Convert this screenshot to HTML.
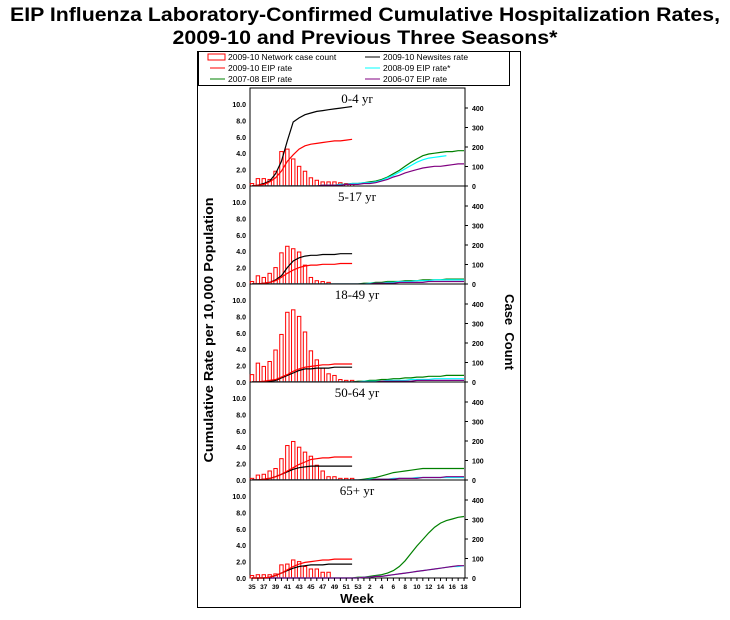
<!DOCTYPE html>
<html><head><meta charset="utf-8"><style>
body{margin:0;background:#fff;width:730px;height:620px;overflow:hidden;font-family:"Liberation Sans",sans-serif}
svg{display:block}
</style></head><body>
<svg id="chart" width="730" height="620" xmlns="http://www.w3.org/2000/svg">
<text x="365" y="21" text-anchor="middle" font-size="19" font-weight="bold" font-family="Liberation Sans, sans-serif" textLength="710" lengthAdjust="spacingAndGlyphs">EIP Influenza Laboratory-Confirmed Cumulative Hospitalization Rates,</text>
<text x="365" y="44" text-anchor="middle" font-size="19" font-weight="bold" font-family="Liberation Sans, sans-serif" textLength="385" lengthAdjust="spacingAndGlyphs">2009-10 and Previous Three Seasons*</text>
<rect x="197.5" y="51.5" width="323" height="556" fill="none" stroke="#000" stroke-width="1"/>
<g font-size="8.5">
<rect x="198.5" y="51.5" width="311" height="34" fill="#fff" stroke="#000"/>
<g><rect x="208" y="54" width="17" height="6" fill="#fff" stroke="red"/><text x="228" y="60">2009-10 Network case count</text></g>
<g><line x1="365" y1="57" x2="380" y2="57" stroke="#000"/><text x="383" y="60">2009-10 Newsites rate</text></g>
<g><line x1="210" y1="68" x2="225" y2="68" stroke="red"/><text x="228" y="71">2009-10 EIP rate</text></g>
<g><line x1="365" y1="68" x2="380" y2="68" stroke="cyan"/><text x="383" y="71">2008-09 EIP rate*</text></g>
<g><line x1="210" y1="79" x2="225" y2="79" stroke="green"/><text x="228" y="82">2007-08 EIP rate</text></g>
<g><line x1="365" y1="79" x2="380" y2="79" stroke="purple"/><text x="383" y="82">2006-07 EIP rate</text></g>
</g>
<text transform="translate(213,330) rotate(-90)" text-anchor="middle" font-size="13" font-weight="bold" textLength="265" lengthAdjust="spacingAndGlyphs">Cumulative Rate per 10,000 Population</text>
<text transform="translate(505,332) rotate(90)" text-anchor="middle" font-size="13" font-weight="bold" xml:space="preserve">Case  Count</text>
<text x="357" y="603" text-anchor="middle" font-size="13" font-weight="bold">Week</text>
<g id="plots"></g>
</svg>
<script>
const weekLabels=["35","","37","","39","","41","","43","","45","","47","","49","","51","","53","","2","","4","","6","","8","","10","","12","","14","","16","","18"];
const panelNames=["0-4 yr","5-17 yr","18-49 yr","50-64 yr","65+ yr"];
const leftTicks=[0,2,4,6,8,10];
const rightTicks=[0,100,200,300,400];
const bars04=[0.3,0.9,0.9,0.8,1.8,4.2,4.5,3.3,2.4,1.8,1.0,0.7,0.5,0.5,0.5,0.4,0.3,0.3];
const bars517=[0.3,1.0,0.8,1.3,2.0,3.8,4.6,4.3,3.9,2.3,0.8,0.4,0.3,0.2,0,0,0,0];
const bars1849=[0.9,2.3,1.9,2.5,3.9,5.8,8.5,8.8,8.0,6.1,3.8,2.7,1.7,1.0,0.8,0.3,0.2,0.2];
const bars5064=[0.2,0.6,0.7,1.1,1.4,2.6,4.2,4.7,4.0,3.4,2.9,1.8,1.1,0.4,0.4,0.2,0.2,0.2];
const bars65=[0.3,0.4,0.4,0.4,0.5,1.6,1.7,2.2,2.0,1.4,1.1,1.1,0.7,0.7,0,0,0,0];
const red04=[0,0.1,0.2,0.5,1.0,1.8,3.0,3.8,4.5,4.9,5.1,5.2,5.3,5.4,5.5,5.5,5.6,5.7];
const blk04=[0,0.1,0.3,0.6,1.5,3.0,5.5,7.8,8.3,8.7,8.9,9.1,9.2,9.3,9.4,9.5,9.6,9.7];
const red517=[0,0,0.1,0.2,0.4,0.8,1.3,1.7,2.0,2.2,2.3,2.3,2.4,2.4,2.4,2.5,2.5,2.5];
const blk517=[0,0,0.1,0.2,0.5,1.0,2.0,2.8,3.2,3.4,3.5,3.5,3.6,3.6,3.6,3.7,3.7,3.7];
const red1849=[0,0,0.1,0.2,0.3,0.6,0.9,1.3,1.6,1.8,1.9,2.0,2.1,2.1,2.2,2.2,2.2,2.2];
const blk1849=[0,0,0,0.1,0.2,0.5,0.8,1.1,1.4,1.6,1.6,1.7,1.7,1.7,1.8,1.8,1.8,1.8];
const red5064=[0,0,0.1,0.2,0.4,0.7,1.1,1.5,1.9,2.2,2.5,2.6,2.7,2.7,2.8,2.8,2.8,2.8];
const blk5064=[0,0,0.1,0.2,0.4,0.7,1.0,1.3,1.5,1.6,1.7,1.7,1.7,1.7,1.7,1.7,1.7,1.7];
const red65=[0,0,0,0.1,0.3,0.6,1.0,1.4,1.7,1.9,2.0,2.1,2.2,2.2,2.3,2.3,2.3,2.3];
const blk65=[0,0,0,0.1,0.3,0.6,0.9,1.2,1.4,1.5,1.6,1.6,1.6,1.7,1.7,1.7,1.7,1.7];
const grn04=[0,0,0,0,0,0,0,0,0,0,0,0,0.1,0.1,0.1,0.2,0.2,0.3,0.3,0.4,0.5,0.6,0.8,1.1,1.5,1.9,2.4,2.9,3.3,3.7,3.9,4.0,4.1,4.2,4.2,4.3,4.3];
const cyn04=[0,0,0,0,0,0,0,0,0,0,0,0,0.1,0.1,0.1,0.2,0.2,0.3,0.3,0.4,0.4,0.5,0.7,1.0,1.3,1.7,2.1,2.5,2.9,3.2,3.4,3.5,3.6,3.7,null,null,null];
const pur04=[0,0,0,0,0,0,0,0,0,0,0,0,0.1,0.1,0.1,0.1,0.2,0.2,0.2,0.3,0.3,0.4,0.6,0.8,1.1,1.3,1.6,1.8,2.0,2.2,2.3,2.4,2.4,2.5,2.6,2.7,2.7];
const grn517=[0,0,0,0,0,0,0,0,0,0,0,0,0,0,0,0,0,0,0,0.1,0.1,0.2,0.2,0.3,0.3,0.3,0.4,0.4,0.4,0.5,0.5,0.5,0.5,0.6,0.6,0.6,0.6];
const cyn517=[0,0,0,0,0,0,0,0,0,0,0,0,0,0,0,0,0,0,0,0,0.1,0.1,0.1,0.2,0.2,0.3,0.3,0.3,0.4,0.4,0.4,0.5,0.5,0.5,0.5,0.5,0.5];
const pur517=[0,0,0,0,0,0,0,0,0,0,0,0,0,0,0,0,0,0,0,0,0,0.1,0.1,0.1,0.1,0.2,0.2,0.2,0.2,0.2,0.3,0.3,0.3,0.3,0.3,0.3,0.3];
const grn1849=[0,0,0,0,0,0,0,0,0,0,0,0,0,0,0,0,0,0,0.1,0.1,0.2,0.2,0.3,0.3,0.4,0.4,0.5,0.5,0.6,0.6,0.7,0.7,0.7,0.8,0.8,0.8,0.8];
const cyn1849=[0,0,0,0,0,0,0,0,0,0,0,0,0,0,0,0,0,0,0,0.1,0.1,0.1,0.1,0.2,0.2,0.2,0.2,0.3,0.3,0.3,0.3,0.4,0.4,0.4,0.4,0.4,0.4];
const pur1849=[0,0,0,0,0,0,0,0,0,0,0,0,0,0,0,0,0,0,0,0,0,0,0.1,0.1,0.1,0.1,0.1,0.1,0.2,0.2,0.2,0.2,0.2,0.2,0.2,0.2,0.2];
const grn5064=[0,0,0,0,0,0,0,0,0,0,0,0,0,0,0,0,0,0,0,0.1,0.2,0.3,0.5,0.7,0.9,1.0,1.1,1.2,1.3,1.4,1.4,1.4,1.4,1.4,1.4,1.4,1.4];
const cyn5064=[0,0,0,0,0,0,0,0,0,0,0,0,0,0,0,0,0,0,0,0,0.1,0.1,0.1,0.1,0.2,0.2,0.2,0.2,0.3,0.3,0.3,0.3,0.3,0.3,0.3,0.3,0.3];
const pur5064=[0,0,0,0,0,0,0,0,0,0,0,0,0,0,0,0,0,0,0,0,0,0.1,0.1,0.1,0.1,0.2,0.2,0.2,0.2,0.3,0.3,0.3,0.3,0.4,0.4,0.4,0.4];
const grn65=[0,0,0,0,0,0,0,0,0,0,0,0,0,0,0,0,0,0,0.1,0.1,0.2,0.3,0.4,0.6,0.9,1.4,2.1,3.0,3.9,4.7,5.5,6.2,6.7,7.0,7.2,7.4,7.5];
const cyn65=[0,0,0,0,0,0,0,0,0,0,0,0,0,0,0,0,0,0,0,0.1,0.1,0.2,0.2,0.3,0.4,0.5,0.6,0.7,0.8,0.9,1.0,1.1,1.2,1.3,1.4,1.4,1.5];
const pur65=[0,0,0,0,0,0,0,0,0,0,0,0,0,0,0,0,0,0,0,0.1,0.1,0.2,0.2,0.3,0.4,0.5,0.6,0.7,0.8,0.9,1.0,1.1,1.2,1.3,1.4,1.5,1.5];

const panels=[
 {bars:bars04,red:red04,blk:blk04,grn:grn04,cyn:cyn04,pur:pur04},
 {bars:bars517,red:red517,blk:blk517,grn:grn517,cyn:cyn517,pur:pur517},
 {bars:bars1849,red:red1849,blk:blk1849,grn:grn1849,cyn:cyn1849,pur:pur1849},
 {bars:bars5064,red:red5064,blk:blk5064,grn:grn5064,cyn:cyn5064,pur:pur5064},
 {bars:bars65,red:red65,blk:blk65,grn:grn65,cyn:cyn65,pur:pur65}
];
const NS="http://www.w3.org/2000/svg";
const X0=252, XSTEP=5.89, LEFT=250, RIGHT=465, PH=98, TOP=88;
function xPos(i){return X0+i*XSTEP;}
function baseY(p){return TOP+PH*(p+1);}
function yRate(p,v){return baseY(p)-v*8.2;}
function yCount(p,v){return baseY(p)-v*78/400;}
function mk(tag,attrs,parent){const e=document.createElementNS(NS,tag);for(const k in attrs)e.setAttribute(k,attrs[k]);parent.appendChild(e);return e;}
const root=document.getElementById('plots');
panels.forEach((pd,p)=>{
  const g=mk('g',{},root);
  
  
  const by=baseY(p);
  const fr=mk('rect',{x:LEFT,y:by-PH,width:RIGHT-LEFT,height:PH,fill:'#fff',stroke:'#000','stroke-width':1},g);
  
  
  const t=mk('text',{x:357,y:by-PH+15,'text-anchor':'middle','font-size':13,'font-family':'Liberation Serif, serif'},g);
  t.textContent=panelNames[p];
  
  
  leftTicks.forEach(v=>{
    const tl=mk('text',{x:246,y:yRate(p,v)+3,'text-anchor':'end','font-size':7,'font-weight':'bold'},g);
    tl.textContent=v.toFixed(1);
    
    
  });
  rightTicks.forEach(v=>{
    mk('line',{x1:RIGHT,x2:RIGHT+3,y1:yCount(p,v),y2:yCount(p,v),stroke:'#000'},g);
    const tr=mk('text',{x:472,y:yCount(p,v)+3,'font-size':7,'font-weight':'bold'},g);
    tr.textContent=v;
    
    
  });
  pd.bars.forEach((v,i)=>{
    if(!v)return;
    const b=mk('rect',{x:xPos(i)-1.7,y:yRate(p,v),width:3.4,height:v*8.2,fill:'#fff',stroke:'red','stroke-width':1},g);
    
    
  });
  [['grn','green'],['cyn','cyan'],['pur','purple'],['blk','black'],['red','red']].forEach(([k,c])=>{
    const pts=[];pd[k].forEach((v,i)=>{if(v!==null)pts.push(xPos(i).toFixed(1)+','+yRate(p,v).toFixed(1));});
    const l=mk('polyline',{points:pts.join(' '),fill:'none',stroke:c,'stroke-width':1.2},g);
    
    
  });
});
const xg=mk('g',{},root);


weekLabels.forEach((w,i)=>{
  mk('line',{x1:xPos(i),x2:xPos(i),y1:578,y2:581,stroke:'#000'},xg);
  if(!w)return;
  const t=mk('text',{x:xPos(i),y:589,'text-anchor':'middle','font-size':6.5,'font-weight':'bold'},xg);
  t.textContent=w;
  
  
});
</script>
</body></html>
